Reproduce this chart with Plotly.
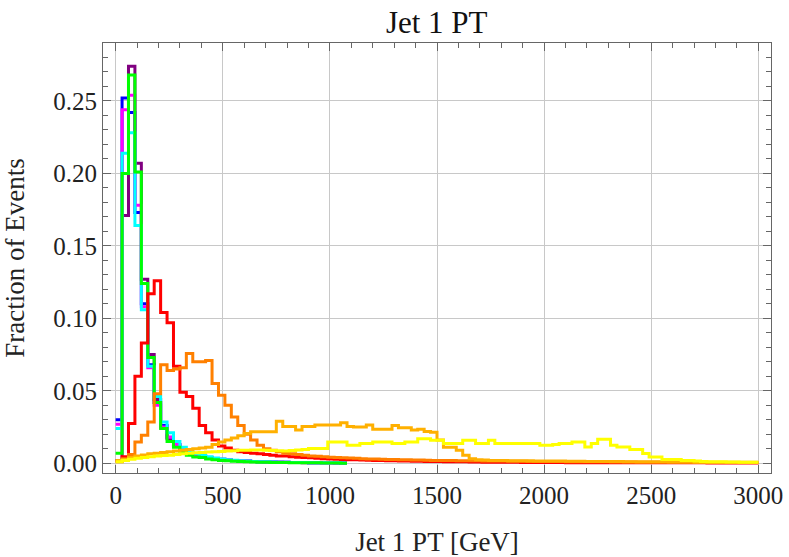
import plotly.graph_objects as go

BIN_WIDTH = 30
X_TICKS = [0, 500, 1000, 1500, 2000, 2500, 3000]
Y_TICKS = [0.00, 0.05, 0.10, 0.15, 0.20, 0.25]

PURPLE = [
    0.002, 0.171, 0.274, 0.207, 0.127, 0.075, 0.044, 0.025, 0.017, 0.012,
    0.009, 0.007, 0.0055, 0.0045, 0.0038, 0.0031, 0.0026, 0.0022, 0.0019, 0.0016,
    0.0014, 0.0012, 0.0010, 0.0009, 0.0008, 0.0007, 0.0006, 0.0005, 0.0005, 0.0004,
    0.0004, 0.0003, 0.0003, 0.0003, 0.0002, 0.0002]
BLUE = [
    0.030, 0.252, 0.242, 0.173, 0.110, 0.068, 0.042, 0.026, 0.018, 0.013,
    0.0095, 0.0075, 0.006, 0.005, 0.004, 0.0033, 0.0028, 0.0024, 0.002, 0.0017,
    0.0015, 0.0013, 0.0011, 0.001, 0.0009, 0.0008, 0.0007, 0.0006, 0.0005, 0.0005,
    0.0004, 0.0004, 0.0003, 0.0003, 0.0003, 0.0002]
MAGENTA = [
    0.027, 0.244, 0.254, 0.178, 0.108, 0.066, 0.040, 0.025, 0.018, 0.013,
    0.0095, 0.0075, 0.006, 0.005, 0.004, 0.0033, 0.0028, 0.0024, 0.002, 0.0017,
    0.0015, 0.0013, 0.0011, 0.001, 0.0009, 0.0008, 0.0007, 0.0006, 0.0005, 0.0005,
    0.0004, 0.0004, 0.0003, 0.0003, 0.0003, 0.0002]
CYAN = [
    0.024, 0.214, 0.228, 0.164, 0.106, 0.067, 0.046, 0.0285, 0.021, 0.015,
    0.011, 0.0085, 0.0068, 0.0055, 0.0045, 0.0037, 0.003, 0.0025, 0.0021, 0.0018,
    0.0015, 0.0013, 0.0011, 0.001, 0.0009, 0.0008, 0.0007, 0.0006, 0.0005, 0.0005,
    0.0004, 0.0004, 0.0003, 0.0003, 0.0003, 0.0002]
GREEN = [
    0.007, 0.200, 0.268, 0.201, 0.124, 0.073, 0.042, 0.024, 0.015, 0.011,
    0.0075, 0.0055, 0.0044, 0.0040, 0.0030, 0.0024, 0.0020, 0.0017, 0.0014, 0.0012,
    0.0010, 0.0009, 0.0008, 0.0007, 0.0006, 0.0005, 0.0005, 0.0004, 0.0004, 0.0003,
    0.0003, 0.0003, 0.0002, 0.0002, 0.0002, 0.0001]
RED = [
    0.0015, 0.0045, 0.0275, 0.060, 0.083, 0.117, 0.126, 0.104, 0.097, 0.067,
    0.049, 0.046, 0.038, 0.026, 0.021, 0.016, 0.012, 0.0105, 0.009, 0.008,
    0.0075, 0.007, 0.0065, 0.006, 0.0055, 0.005, 0.005, 0.0045, 0.0042, 0.004,
    0.0038, 0.0035, 0.0032, 0.003, 0.0028, 0.0026, 0.0025, 0.0024, 0.0022, 0.0021,
    0.002, 0.0019, 0.0018, 0.0017, 0.0016, 0.0015, 0.0014, 0.0014, 0.0013, 0.0012,
    0.0012, 0.0011, 0.0011, 0.001, 0.001, 0.0009, 0.0009, 0.0008, 0.0008, 0.0008,
    0.0007, 0.0007, 0.0007, 0.0006, 0.0006, 0.0006, 0.0005, 0.0005, 0.0005, 0.0005,
    0.0004, 0.0004, 0.0004, 0.0004, 0.0004, 0.0004, 0.0004, 0.0004, 0.0004, 0.0004,
    0.0004, 0.0003, 0.0003, 0.0003, 0.0003, 0.0003, 0.0003, 0.0003, 0.0003, 0.0003,
    0.0003, 0.0003, 0.0002, 0.0002, 0.0002, 0.0002, 0.0002, 0.0002, 0.0002, 0.0002]
ORANGE = [
    0.001, 0.002, 0.006, 0.0147, 0.0193, 0.0285, 0.048, 0.068, 0.064, 0.065,
    0.066, 0.0758, 0.070, 0.070, 0.071, 0.055, 0.047, 0.040, 0.032, 0.026,
    0.020, 0.016, 0.0125, 0.010, 0.009, 0.008, 0.007, 0.0065, 0.006, 0.0055,
    0.005, 0.0048, 0.0045, 0.0042, 0.004, 0.0038, 0.0036, 0.0034, 0.0032, 0.003,
    0.0029, 0.0028, 0.0027, 0.0026, 0.0025, 0.0024, 0.0023, 0.0022, 0.0021, 0.002,
    0.002, 0.0019, 0.0019, 0.0018, 0.0018, 0.0017, 0.0017, 0.0016, 0.0016, 0.0015,
    0.0015, 0.0014, 0.0014, 0.0014, 0.0013, 0.0013, 0.0013, 0.0012, 0.0012, 0.0012,
    0.0011, 0.0011, 0.0011, 0.001, 0.001, 0.001, 0.001, 0.0009, 0.0009, 0.0009,
    0.0009, 0.0008, 0.0008, 0.0008, 0.0008, 0.0007, 0.0007, 0.0007, 0.0007, 0.0007,
    0.0006, 0.0006, 0.0006, 0.0006, 0.0006, 0.0005, 0.0005, 0.0005, 0.0005, 0.0005]
GOLD = [
    0.002, 0.003, 0.004, 0.005, 0.0058, 0.0065, 0.007, 0.0075, 0.008, 0.0085,
    0.009, 0.0095, 0.010, 0.0105, 0.011, 0.013, 0.0147, 0.016, 0.0175, 0.019,
    0.0205, 0.0218, 0.0218, 0.0218, 0.0218, 0.029, 0.0253, 0.0253, 0.023, 0.0253,
    0.0253, 0.0265, 0.0265, 0.0265, 0.0265, 0.028, 0.0253, 0.025, 0.025, 0.0265,
    0.0235, 0.0235, 0.0235, 0.026, 0.0245, 0.0245, 0.023, 0.0235, 0.022, 0.0215,
    0.016, 0.011, 0.011, 0.009, 0.0055, 0.0032, 0.0025, 0.0022, 0.002, 0.002,
    0.0019, 0.0018, 0.0018, 0.0017, 0.0017, 0.0016, 0.0016, 0.0015, 0.0015, 0.0015,
    0.0014, 0.0014, 0.0014, 0.0013, 0.0013, 0.0013, 0.0012, 0.0012, 0.0012, 0.0011,
    0.0011, 0.0011, 0.001, 0.001, 0.001, 0.001, 0.0009, 0.0009, 0.0009, 0.0009,
    0.0008, 0.0008, 0.0008, 0.0008, 0.0008, 0.0008, 0.0008, 0.0008, 0.0008, 0.0008]
YELLOW = [
    0.001, 0.002, 0.0028, 0.0034, 0.004, 0.0045, 0.005, 0.0053, 0.0056, 0.006,
    0.0065, 0.007, 0.0072, 0.0075, 0.0078, 0.008, 0.0082, 0.0085, 0.0087, 0.009,
    0.009, 0.0092, 0.0092, 0.009, 0.0088, 0.0086, 0.0085, 0.0088, 0.0092, 0.0095,
    0.0102, 0.0102, 0.0102, 0.0147, 0.0147, 0.0147, 0.0124, 0.0124, 0.0136, 0.0136,
    0.0147, 0.0147, 0.0147, 0.0136, 0.0136, 0.0147, 0.0147, 0.017, 0.017, 0.0159,
    0.0159, 0.0136, 0.0136, 0.0136, 0.0159, 0.0159, 0.0136, 0.0136, 0.0159, 0.0136,
    0.0136, 0.0136, 0.0136, 0.0136, 0.0136, 0.0136, 0.0124, 0.0124, 0.013, 0.0136,
    0.0136, 0.0147, 0.0147, 0.0113, 0.0136, 0.0166, 0.0166, 0.0124, 0.0113, 0.0113,
    0.0095, 0.0095, 0.0067, 0.0044, 0.0044, 0.0026, 0.0026, 0.0026, 0.002, 0.002,
    0.0015, 0.0012, 0.001, 0.001, 0.001, 0.0009, 0.0009, 0.0008, 0.0008, 0.0008]

SERIES = [
    ("Purple", PURPLE, "#800080"),
    ("Blue", BLUE, "#0000FF"),
    ("Magenta", MAGENTA, "#FF00FF"),
    ("Cyan", CYAN, "#00FFFF"),
    ("Green", GREEN, "#00FF00"),
    ("Red", RED, "#FF0000"),
    ("Orange", ORANGE, "#FF8000"),
    ("Gold", GOLD, "#FFB000"),
    ("Yellow", YELLOW, "#FFFF00"),
]

FONT = "Liberation Serif"

fig = go.Figure()
for name, vals, color in SERIES:
    edges = [i * BIN_WIDTH for i in range(len(vals) + 1)]
    fig.add_trace(go.Scatter(
        x=edges, y=list(vals) + [vals[-1]], mode="lines", name=name,
        line=dict(color=color, width=3, shape="hv"), showlegend=False,
    ))

axis_common = dict(
    showline=True, linecolor="#666666", linewidth=1, mirror="allticks",
    ticks="inside", ticklen=8, tickcolor="#666666", tickwidth=1,
    showgrid=True, gridcolor="#c8c8c8", gridwidth=1, zeroline=False,
    automargin=False,
    tickfont=dict(family=FONT, size=25, color="#222222"),
)

fig.update_layout(
    width=789, height=557,
    margin=dict(l=103, r=18, t=43, b=84),
    paper_bgcolor="white", plot_bgcolor="white",
    title=dict(text="Jet 1 PT", x=0.5535, xanchor="center", y=0.96, yanchor="middle",
               font=dict(family=FONT, size=31, color="#111111")),
    xaxis=dict(range=[-59, 3059], tickvals=X_TICKS,
               title=dict(text="Jet 1 PT [GeV]", font=dict(family=FONT, size=27, color="#222222"), standoff=26),
               minor=dict(dtick=100, tick0=0, ticks="inside", ticklen=5, tickcolor="#666666", showgrid=False),
               **axis_common),
    yaxis=dict(range=[-0.0067, 0.290], tickvals=Y_TICKS, tickformat=".2f",
               title=dict(text="Fraction of Events", font=dict(family=FONT, size=27, color="#222222"), standoff=22),
               minor=dict(dtick=0.01, tick0=0, ticks="inside", ticklen=5, tickcolor="#666666", showgrid=False),
               **axis_common),
)

fig.write_html("out.html", config={"displayModeBar": False},
               post_script="document.body.style.margin='0';")
